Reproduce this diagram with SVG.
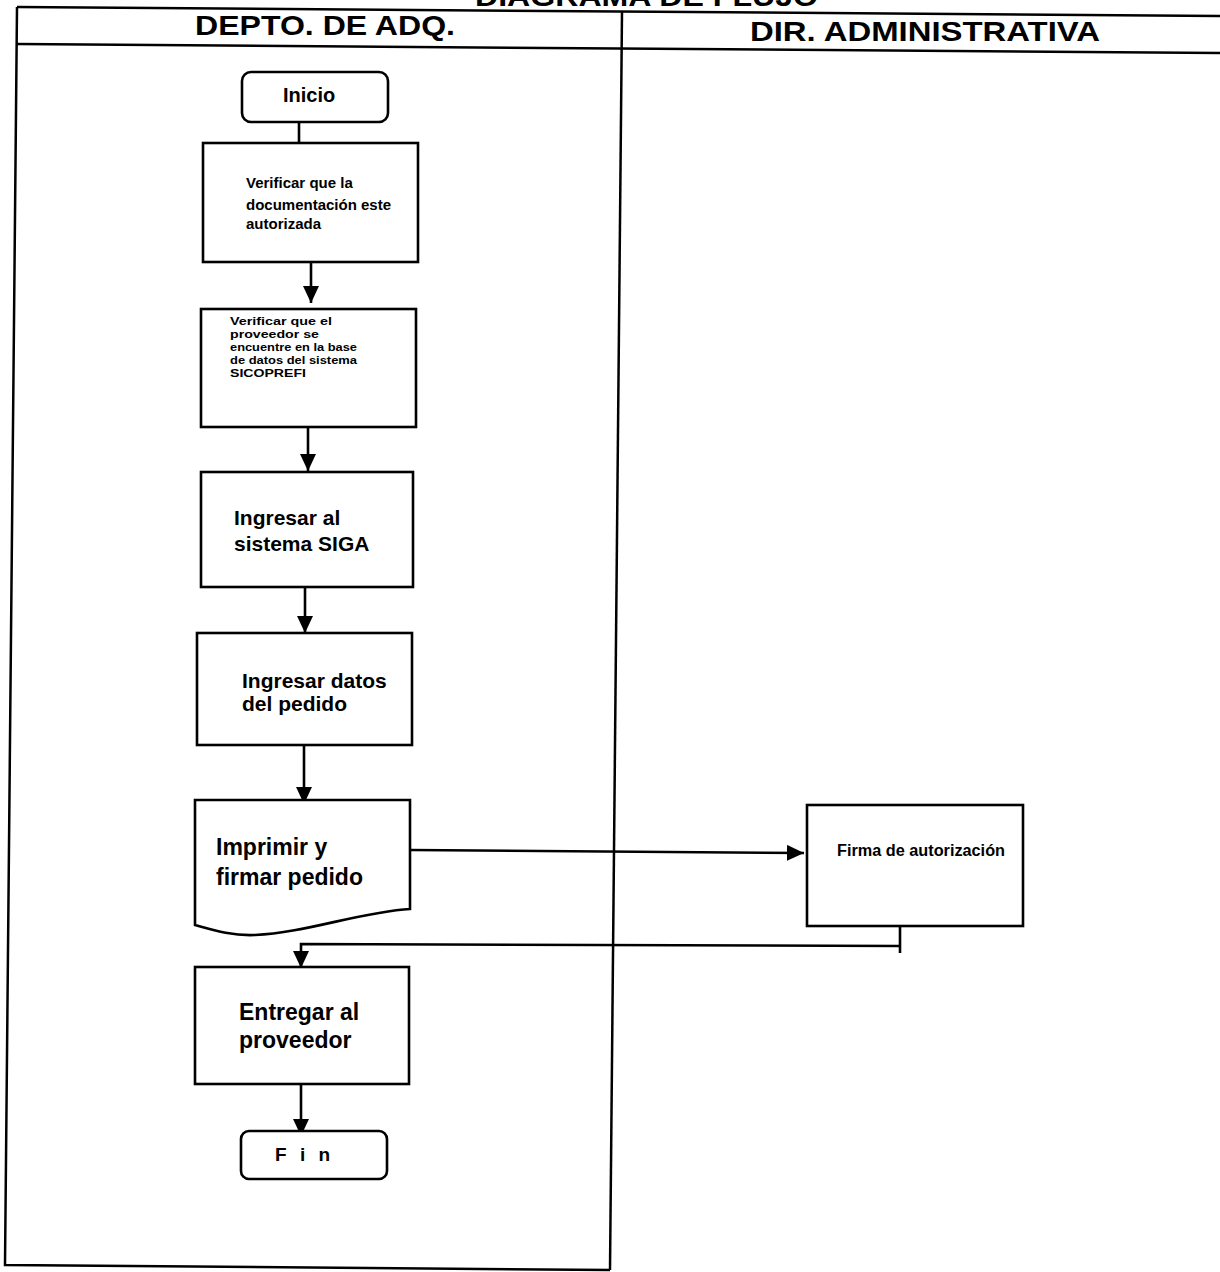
<svg xmlns="http://www.w3.org/2000/svg" width="1220" height="1272" viewBox="0 0 1220 1272">
  <style>
    .frame { fill: none; stroke: #000; stroke-width: 2.5; }
    .box { fill: #fff; stroke: #000; stroke-width: 2.6; }
    .wire { fill: none; stroke: #000; stroke-width: 2.6; }
    text { font-family: "Liberation Sans", Arial, Helvetica, sans-serif; font-weight: bold; fill: #000; }
    .head { font-size: 28px; }
    .lbl { font-size: 21px; }
    .tiny { font-size: 11px; }
  </style>
  <defs>
    <marker id="arrow" markerUnits="userSpaceOnUse" markerWidth="18" markerHeight="16" refX="17" refY="8" orient="auto">
      <path d="M0,0 L17,8 L0,16 Z" fill="#000"/>
    </marker>
  </defs>

  <rect width="1220" height="1272" fill="#fff"/>

  <!-- sheet title, cut by the top edge -->
  <text class="head" x="475" y="6" textLength="343" lengthAdjust="spacingAndGlyphs">DIAGRAMA DE FLUJO</text>

  <!-- swimlane frame -->
  <g id="lanes">
    <path class="frame" d="M17,7 L1220,16"/>
    <path class="frame" d="M17,44 L1220,53"/>
    <path class="frame" d="M17,7 L5,1265 L610,1270"/>
    <path class="frame" d="M622,12 L610,1270"/>
    <text class="head" x="195" y="35" textLength="260" lengthAdjust="spacingAndGlyphs">DEPTO. DE ADQ.</text>
    <text class="head" x="750" y="41" textLength="350" lengthAdjust="spacingAndGlyphs">DIR. ADMINISTRATIVA</text>
  </g>

  <!-- connectors -->
  <g id="connectors">
    <path class="wire" d="M299,122 V143"/>
    <path class="wire" d="M311,262 V303" marker-end="url(#arrow)"/>
    <path class="wire" d="M308,427 V471" marker-end="url(#arrow)"/>
    <path class="wire" d="M305,587 V633" marker-end="url(#arrow)"/>
    <path class="wire" d="M304,745 V804" marker-end="url(#arrow)"/>
    <path class="wire" d="M410,850 L804,853" marker-end="url(#arrow)"/>
    <path class="wire" d="M900,926 V953 M900,946 L301,944 V968" marker-end="url(#arrow)"/>
    <path class="wire" d="M301,1084 V1136" marker-end="url(#arrow)"/>
  </g>

  <g id="inicio">
    <rect class="box" x="242" y="72" width="146" height="50" rx="9"/>
    <text x="283" y="102" font-size="20">Inicio</text>
  </g>

  <g id="verificar-doc">
    <rect class="box" x="203" y="143" width="215" height="119"/>
    <text x="246" y="188" font-size="15">Verificar que la</text>
    <text x="246" y="210" font-size="15">documentación este</text>
    <text x="246" y="229" font-size="15">autorizada</text>
  </g>

  <g id="verificar-proveedor">
    <rect class="box" x="201" y="309" width="215" height="118"/>
    <text class="tiny" x="230" y="325" textLength="102" lengthAdjust="spacingAndGlyphs">Verificar que el</text>
    <text class="tiny" x="230" y="338" textLength="89" lengthAdjust="spacingAndGlyphs">proveedor se</text>
    <text class="tiny" x="230" y="351" textLength="127" lengthAdjust="spacingAndGlyphs">encuentre en la base</text>
    <text class="tiny" x="230" y="364" textLength="127" lengthAdjust="spacingAndGlyphs">de datos del sistema</text>
    <text class="tiny" x="230" y="377" textLength="76" lengthAdjust="spacingAndGlyphs">SICOPREFI</text>
  </g>

  <g id="ingresar-siga">
    <rect class="box" x="201" y="472" width="212" height="115"/>
    <text class="lbl" x="234" y="525">Ingresar al</text>
    <text class="lbl" x="234" y="551">sistema SIGA</text>
  </g>

  <g id="ingresar-datos">
    <rect class="box" x="197" y="633" width="215" height="112"/>
    <text class="lbl" x="242" y="688">Ingresar datos</text>
    <text class="lbl" x="242" y="711">del pedido</text>
  </g>

  <g id="imprimir">
    <path class="box" d="M195,800 H410 V909 C360,912 305,933 255,935 C232,936 213,930 195,925 Z"/>
    <text x="216" y="855" font-size="23">Imprimir y</text>
    <text x="216" y="885" font-size="23">firmar pedido</text>
  </g>

  <g id="firma">
    <rect class="box" x="807" y="805" width="216" height="121"/>
    <text x="837" y="856" font-size="16" textLength="168" lengthAdjust="spacingAndGlyphs">Firma de autorización</text>
  </g>

  <g id="entregar">
    <rect class="box" x="195" y="967" width="214" height="117"/>
    <text x="239" y="1020" font-size="23">Entregar al</text>
    <text x="239" y="1048" font-size="23">proveedor</text>
  </g>

  <g id="fin">
    <rect class="box" x="241" y="1131" width="146" height="48" rx="8"/>
    <text x="275" y="1161" font-size="19" letter-spacing="4">F i n</text>
  </g>
</svg>
